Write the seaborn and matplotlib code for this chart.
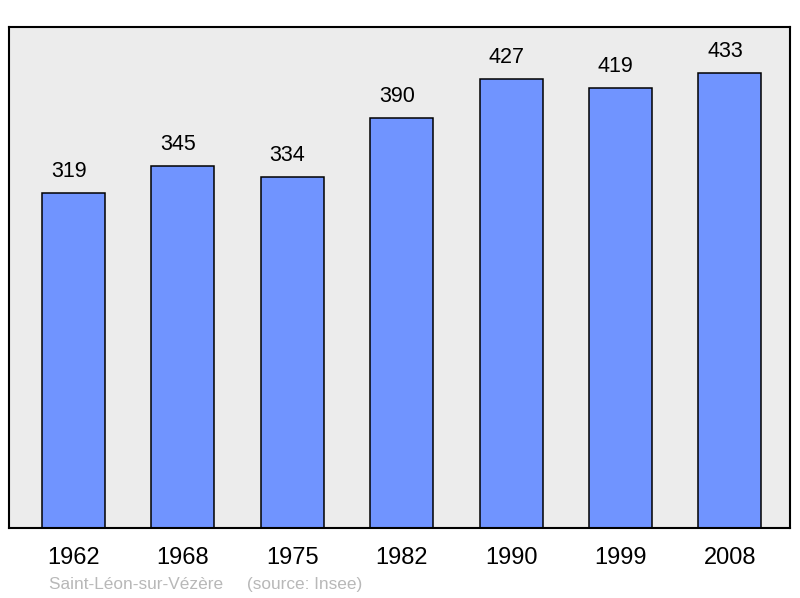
import matplotlib
matplotlib.use("Agg")
import matplotlib.pyplot as plt
import seaborn as sns
import pandas as pd

annees = ['1962', '1968', '1975', '1982', '1990', '1999', '2008']
population = [319, 345, 334, 390, 427, 419, 433]
commune = 'Saint-Léon-sur-Vézère'
source = '(source: Insee)'

df = pd.DataFrame({'annee': annees, 'pop': population})

sns.set_style('white')
plt.rcParams['font.family'] = ['Liberation Sans', 'DejaVu Sans']

fig = plt.figure(figsize=(8, 5.98), dpi=100)
ax = fig.add_axes([0.01125, 0.1171, 0.97625, 0.8378])
ax.set_facecolor('#ececec')

sns.barplot(data=df, x='annee', y='pop', color='#7094ff', saturation=1,
            width=0.576, edgecolor='black', linewidth=1.1, ax=ax)

# etiquettes de valeur, un peu decalees a gauche comme l'original
for i, v in enumerate(population):
    ax.annotate(str(v), (i, v), xytext=(-3.5, 8), textcoords='offset points',
                ha='center', va='bottom', fontsize=15.5, color='black')

ax.set_xlim(-0.59, 6.55)
ax.set_ylim(0, 477)
ax.set_yticks([])
ax.set_xlabel('')
ax.set_ylabel('')
ax.tick_params(axis='x', length=0, pad=14, labelsize=17, colors='black')
for s in ax.spines.values():
    s.set_visible(True)
    s.set_color('black')
    s.set_linewidth(1.5)

fig.text(49 / 800, 1 - 585 / 598, commune + '     ' + source, fontsize=12.4,
         color='#b8b8b8', ha='left', va='center')

fig.savefig('out.png', dpi=100)
